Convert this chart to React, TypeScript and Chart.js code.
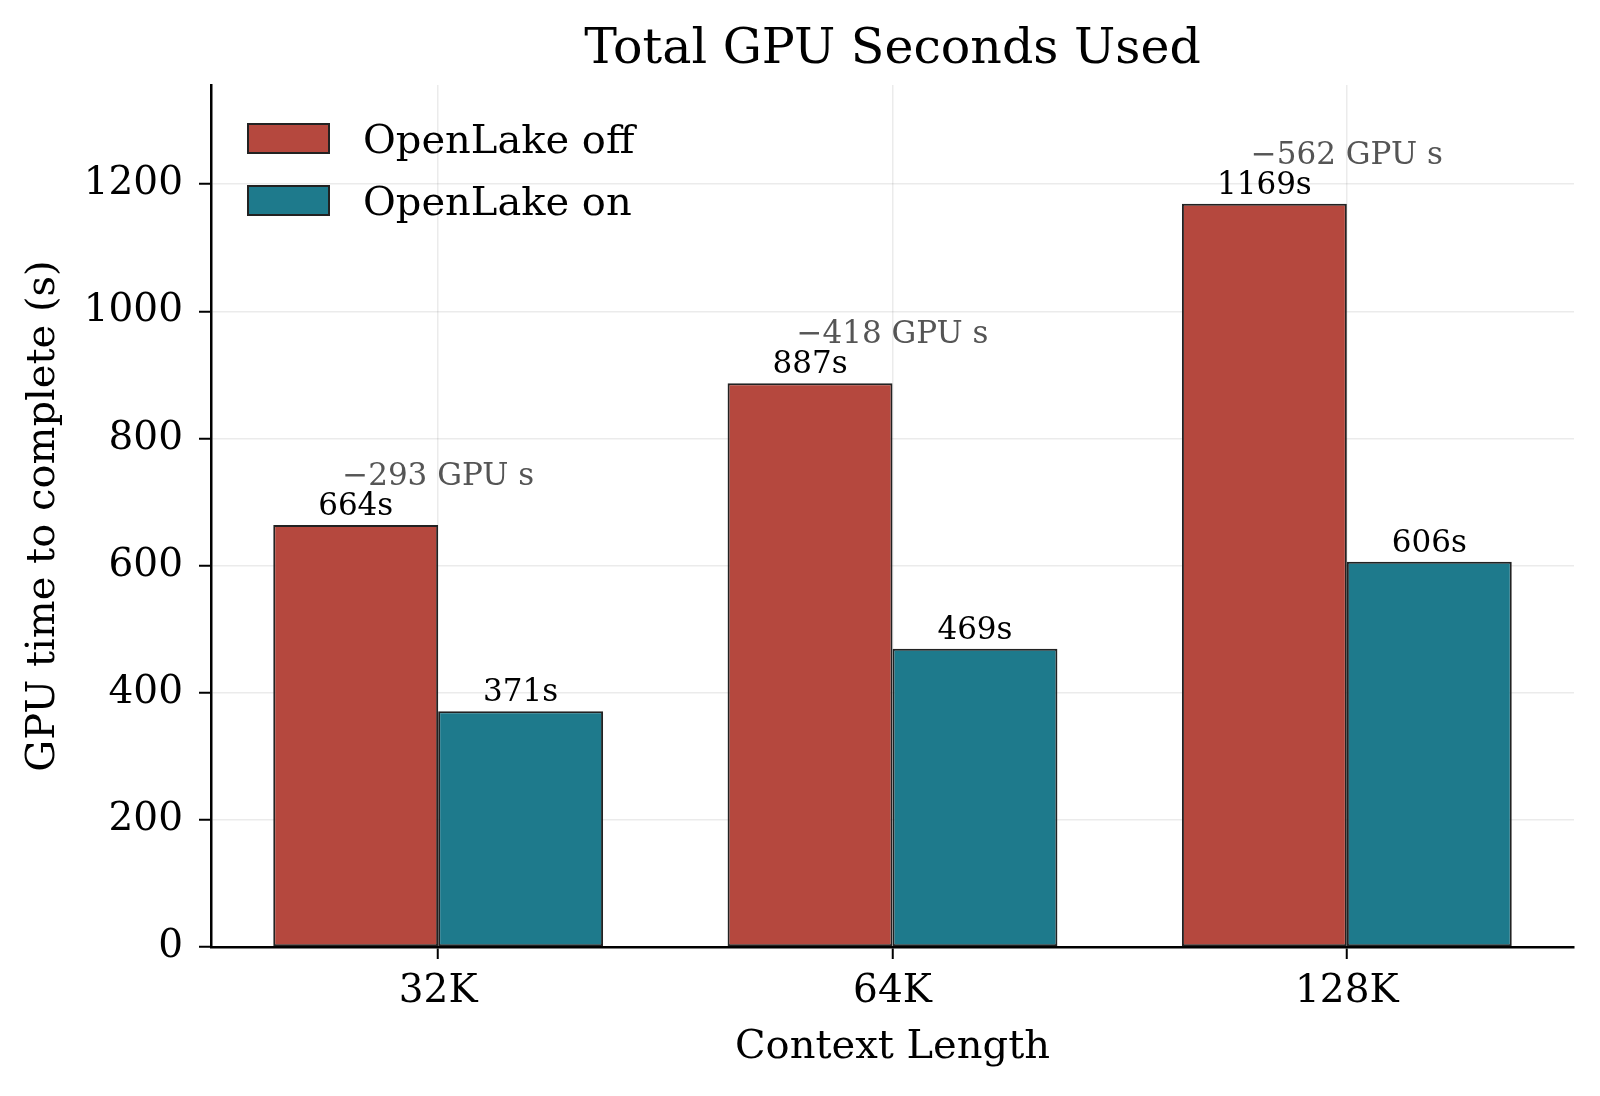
import React, { useEffect, useRef } from "react";
import { Chart, registerables } from "chart.js";

Chart.register(...registerables);

const contextLengths = ["32K", "64K", "128K"];
const gpuSecondsOff = [664, 887, 1169];
const gpuSecondsOn = [371, 469, 606];
const gpuSecondsSaved = [293, 418, 562];
const yTicks = [0, 200, 400, 600, 800, 1000, 1200];

const FONT = "'DejaVu Serif', 'Liberation Serif', serif";
const RED = "#b5483e";
const TEAL = "#1e7a8c";

// value labels on top of the bars plus the saving above each group
const barLabels = {
  id: "barLabels",
  afterDatasetsDraw(chart: any) {
    const { ctx } = chart;
    ctx.save();
    ctx.font = `31px ${FONT}`;
    ctx.textAlign = "center";
    ctx.textBaseline = "alphabetic";
    ctx.fillStyle = "#000";
    chart.data.datasets.forEach((ds: any, i: number) => {
      chart.getDatasetMeta(i).data.forEach((bar: any, j: number) => {
        ctx.fillText(`${ds.data[j]}s`, bar.x, bar.y - 10);
      });
    });
    const offBars = chart.getDatasetMeta(0).data;
    const xScale = chart.scales.x;
    ctx.fillStyle = "#555555";
    gpuSecondsSaved.forEach((s, j) => {
      ctx.fillText(`\u2212${s} GPU s`, xScale.getPixelForValue(j), offBars[j].y - 40);
    });
    ctx.restore();
  },
};

// legend inside the plot, upper left, no frame
const boxLegend = {
  id: "boxLegend",
  afterDraw(chart: any) {
    const { ctx, chartArea } = chart;
    ctx.save();
    ctx.font = `40px ${FONT}`;
    ctx.textAlign = "left";
    ctx.textBaseline = "alphabetic";
    chart.data.datasets.forEach((ds: any, i: number) => {
      const left = chartArea.left + 37;
      const top = chartArea.top + 39 + i * 62;
      ctx.fillStyle = ds.backgroundColor;
      ctx.fillRect(left, top, 81, 29);
      ctx.strokeStyle = "#222";
      ctx.lineWidth = 2;
      ctx.strokeRect(left, top, 81, 29);
      ctx.fillStyle = "#000";
      ctx.fillText(ds.label, left + 115, top + 29);
    });
    ctx.restore();
  },
};

export default function App() {
  const canvasRef = useRef<HTMLCanvasElement>(null);

  useEffect(() => {
    const gridColor = "rgba(0,0,0,0.08)";
    const tickFont = { family: FONT, size: 39 };
    const labelFont = { family: FONT, size: 40 };

    const chart = new Chart(canvasRef.current!, {
      type: "bar",
      data: {
        labels: contextLengths,
        datasets: [
          {
            label: "OpenLake off",
            data: gpuSecondsOff,
            backgroundColor: RED,
          },
          {
            label: "OpenLake on",
            data: gpuSecondsOn,
            backgroundColor: TEAL,
          },
        ],
      },
      options: {
        responsive: true,
        maintainAspectRatio: false,
        animation: false,
        layout: { padding: { left: 0, right: 26, top: 0, bottom: 0 } },
        datasets: {
          bar: {
            categoryPercentage: 0.726,
            barPercentage: 1.0,
            borderWidth: 2,
            borderColor: "#222",
            borderSkipped: false,
          },
        },
        plugins: {
          legend: { display: false },
          tooltip: { enabled: false },
          title: {
            display: true,
            text: "Total GPU Seconds Used",
            color: "#000",
            fullSize: false,
            font: { family: FONT, size: 49, weight: "normal" },
            padding: { top: 20.6, bottom: 5.6 },
          },
        },
        scales: {
          x: {
            offset: true,
            grid: {
              offset: false,
              color: gridColor,
              lineWidth: 1.5,
              tickColor: "#000",
              tickLength: 12,
              tickWidth: 2,
            },
            border: { color: "#000", width: 2.5 },
            ticks: { color: "#000", font: tickFont, padding: 9 },
            title: {
              display: true,
              text: "Context Length",
              color: "#000",
              font: labelFont,
              padding: { top: 0, bottom: 24 },
            },
            afterFit: (scale: any) => {
              scale.height = 149;
            },
          },
          y: {
            min: 0,
            max: 1356,
            afterBuildTicks: (scale: any) => {
              scale.ticks = yTicks.map((v) => ({ value: v }));
            },
            grid: {
              color: gridColor,
              lineWidth: 1.5,
              tickColor: "#000",
              tickLength: 12,
              tickWidth: 2,
            },
            border: { color: "#000", width: 2.5 },
            ticks: {
              color: "#000",
              font: tickFont,
              padding: 16,
              callback: (value: any) => String(value),
            },
            title: {
              display: true,
              text: "GPU time to complete (s)",
              color: "#000",
              font: labelFont,
              padding: { top: 20, bottom: 0 },
            },
            afterFit: (scale: any) => {
              scale.width = 211;
            },
          },
        },
      },
      plugins: [barLabels, boxLegend],
    });

    return () => {
      chart.destroy();
    };
  }, []);

  return (
    <div
      style={{
        position: "fixed",
        left: 0,
        top: 0,
        width: 1600,
        height: 1096,
        background: "#fff",
      }}
    >
      <canvas ref={canvasRef} />
    </div>
  );
}
